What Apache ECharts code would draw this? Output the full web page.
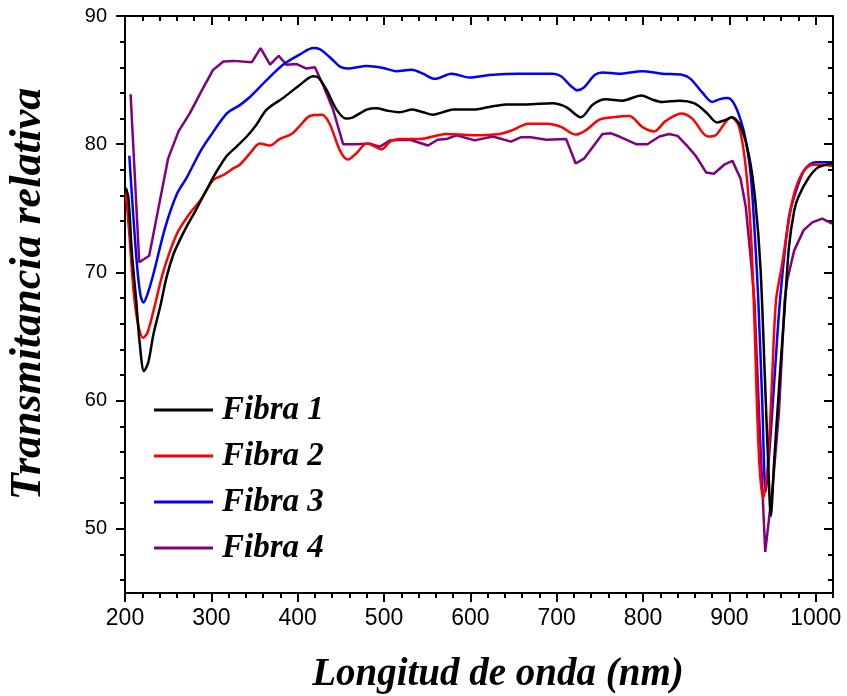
<!DOCTYPE html>
<html>
<head>
<meta charset="utf-8">
<script src="https://cdn.jsdelivr.net/npm/echarts@6/dist/echarts.min.js"></script>
<style>html,body{margin:0;padding:0;background:#fff}#c{width:847px;height:696px}</style>
</head>
<body>
<div id="c"></div>
<script>
// ---- data (wavelength nm, relative transmittance) ----
const seriesNames = ['Fibra 1', 'Fibra 2', 'Fibra 3', 'Fibra 4'];
const xMajorTicks = [200, 300, 400, 500, 600, 700, 800, 900, 1000];
const yMajorTicks = [50, 60, 70, 80, 90];

const fibra1X = [201,204,208,213,217,222,227,233,241,248,256,264,271.5,280,287,295,302,310,318,329,341,352,364,383,402,418,424,433,445,456,464,480,491,505,518,533,545,557,568,580,603,622,641,665,695,711,728,742,757,776,798,810,822,842,859,873,886,896,903,913,923,930,936,941,945,948,952,956,960,964,969,975,980,992,1003,1019];
const fibra1Y = [76.6,75.8,71.5,67.8,64.5,62.3,63.0,65.2,67.4,69.6,71.4,72.6,73.6,74.6,75.5,76.5,77.4,78.3,79.1,79.8,80.6,81.5,82.7,83.6,84.6,85.3,85.2,84.3,82.7,82.0,82.1,82.7,82.8,82.6,82.5,82.7,82.5,82.3,82.5,82.7,82.7,82.9,83.1,83.1,83.2,82.9,82.1,83.1,83.5,83.4,83.8,83.5,83.3,83.4,83.2,82.5,81.7,81.9,82.1,81.4,79.0,75.6,70.4,62.0,55.0,51.0,55.5,59.5,63.5,67.2,72.0,74.8,75.9,77.4,78.2,78.5];

const fibra2X = [201,205,210,215,221,226,233,244.5,260,275,287,302,314,325,333,345,356,368,379,393,402,414,428,437,449,458,468,480,487,497,507,518,541,572,603,634,649,667,688,705,722,734,749,765,784,799,813,826,844,857,875,884,902,911,919,925,929,934,939,944,949,954,961,973,984,996,1008,1019];
const fibra2Y = [76.2,73.0,68.5,66.0,64.9,65.3,67.0,70.1,73.0,74.6,75.6,77.2,77.6,78.1,78.4,79.3,80.05,79.9,80.4,80.8,81.4,82.2,82.3,81.6,79.5,78.8,79.3,80.05,79.9,79.6,80.2,80.4,80.4,80.8,80.7,80.8,81.1,81.6,81.6,81.35,80.75,81.1,81.9,82.1,82.2,81.35,81.0,81.8,82.4,82.0,80.6,80.7,82.1,81.4,78.2,73.0,66.2,56.0,52.4,54.5,61.0,67.8,70.6,75.6,77.7,78.4,78.4,78.3];

const fibra3X = [205,209,214,218,221.4,226,233,246.5,260,271.5,287,298.5,318,333,345,364,383,402.5,418,426,437,449,458,480,499,514,532,545,559,578,599,622,657,695,705,717,724,732,744,753,772,799,822,846,855,869,880,888,898,905,913,919,925,930.5,933.5,938,942,945,952,958.6,969,978.6,988,1000,1019];
const fibra3Y = [79.1,75.0,70.5,68.2,67.65,68.3,69.9,73.5,76.1,77.4,79.4,80.6,82.4,83.05,83.7,85.0,86.2,87.0,87.5,87.4,86.8,86.05,85.9,86.1,85.95,85.7,85.8,85.5,85.1,85.5,85.2,85.4,85.5,85.5,85.3,84.5,84.2,84.45,85.4,85.6,85.5,85.7,85.5,85.4,85.1,84.0,83.3,83.5,83.6,83.2,81.9,80.3,77.4,71.7,67.8,60.0,52.9,54.8,61.5,67.8,74.3,76.65,78.1,78.6,78.6];

const fibra4X = [206.5,216.5,228,239,250,262,275,289,302,314,325.5,347,357,368,378,387,399,410,420,429.5,441,452.6,468,483.5,495,507,530,551,562,572,584,605,626,647,659,670,688,711,722,732,753,763,772.5,792,805,819,830,840,850,861,873,882,894,903.5,913,919,925,929,935,941.5,950,957.5,964,967,975,986,996,1007.5,1019];
const fibra4Y = [83.9,70.8,71.3,75.1,78.9,81.0,82.4,84.2,85.8,86.45,86.5,86.4,87.5,86.2,86.9,86.2,86.25,85.9,86.0,84.6,82.7,80.0,80.0,80.05,79.8,80.3,80.35,79.9,80.35,80.4,80.7,80.3,80.6,80.2,80.55,80.55,80.35,80.4,78.5,78.9,80.8,80.85,80.6,80.0,80.0,80.6,80.8,80.65,79.95,79.1,77.8,77.7,78.4,78.7,77.3,75.1,70.9,67.8,58.0,48.2,53.2,59.2,67.8,69.4,71.7,73.3,73.9,74.2,73.8];

const seriesX = [fibra1X, fibra2X, fibra3X, fibra4X];
const seriesY = [fibra1Y, fibra2Y, fibra3Y, fibra4Y];
const colors = ['#000000', '#ff0000', '#0000ff', '#800080'];
const smoothing = [0.3, 0.3, 0.3, false];

function zip(xs, ys) { return xs.map((x, i) => [x, ys[i]]); }
function minorValues(min, max, step, majors) {
  const out = [];
  for (let v = min; v <= max + 1e-9; v += step) {
    const r = Math.round(v * 100) / 100;
    if (!majors.includes(r)) out.push(r);
  }
  return out;
}
const xMinor = minorValues(220, 1020, 20, xMajorTicks);
const yMinor = minorValues(46, 88, 2, yMajorTicks);

const XMIN = 200, XMAX = 1020, YMIN = 45, YMAX = 90;
const lineStyleAxis = { color: '#000', width: 2 };

function xAx(position, ticks, len, inside, showLine, showLabel) {
  return {
    type: 'value', min: XMIN, max: XMAX, position: position,
    splitLine: { show: false },
    axisLine: { show: showLine, onZero: false, lineStyle: lineStyleAxis },
    axisTick: { show: true, inside: inside, length: len, customValues: ticks, lineStyle: { color: '#000', width: 2 } },
    axisLabel: showLabel ? { show: true, customValues: ticks, formatter: v => String(v), margin: 14, color: '#000', fontSize: 23, fontFamily: 'Liberation Sans' } : { show: false }
  };
}
function yAx(position, ticks, len, inside, showLine, showLabel) {
  return {
    type: 'value', min: YMIN, max: YMAX, position: position,
    splitLine: { show: false },
    axisLine: { show: showLine, onZero: false, lineStyle: lineStyleAxis },
    axisTick: { show: true, inside: inside, length: len, customValues: ticks, lineStyle: { color: '#000', width: 2 } },
    axisLabel: showLabel ? { show: true, customValues: ticks, formatter: v => String(v), margin: 18, color: '#000', fontSize: 20, fontFamily: 'Liberation Sans' } : { show: false }
  };
}

const chart = echarts.init(document.getElementById('c'), null, { renderer: 'canvas' });
chart.setOption({
  animation: false,
  backgroundColor: '#fff',
  grid: { left: 125, right: 14, top: 16, bottom: 103, containLabel: false },
  xAxis: [
    xAx('bottom', xMajorTicks, 9, false, true, true),
    xAx('bottom', xMinor, 5, false, false, false),
    xAx('top', xMajorTicks, 9, true, true, false),
    xAx('top', xMinor, 5, true, false, false)
  ],
  yAxis: [
    yAx('left', yMajorTicks, 9, false, true, true),
    yAx('left', yMinor, 5, false, false, false),
    yAx('right', yMajorTicks, 9, true, true, false),
    yAx('right', yMinor, 5, true, false, false)
  ],
  legend: {
    orient: 'vertical', left: 154, top: 387, padding: 0,
    icon: 'rect', itemWidth: 59, itemHeight: 3, itemGap: 0,
    data: seriesNames,
    textStyle: { fontFamily: 'Liberation Serif', fontWeight: 'bold', fontStyle: 'italic', fontSize: 33, color: '#000', lineHeight: 46, padding: [0, 0, 0, 4] }
  },
  graphic: [
    { type: 'text', x: 29, y: 294, rotation: Math.PI / 2,
      style: { text: 'Transmitancia relativa', font: 'italic bold 44px "Liberation Serif"', fill: '#000', textAlign: 'center', textVerticalAlign: 'middle' } },
    { type: 'text', x: 498, y: 675,
      style: { text: 'Longitud de onda (nm)', font: 'italic bold 39px "Liberation Serif"', fill: '#000', textAlign: 'center', textVerticalAlign: 'middle' } }
  ],
  series: seriesNames.map((n, i) => ({
    name: n, type: 'line', xAxisIndex: 0, yAxisIndex: 0,
    data: zip(seriesX[i], seriesY[i]),
    symbol: 'none', smooth: smoothing[i],
    color: colors[i],
    lineStyle: { color: colors[i], width: 2.5 },
    z: 4 - i
  }))
});
</script>
</body>
</html>
